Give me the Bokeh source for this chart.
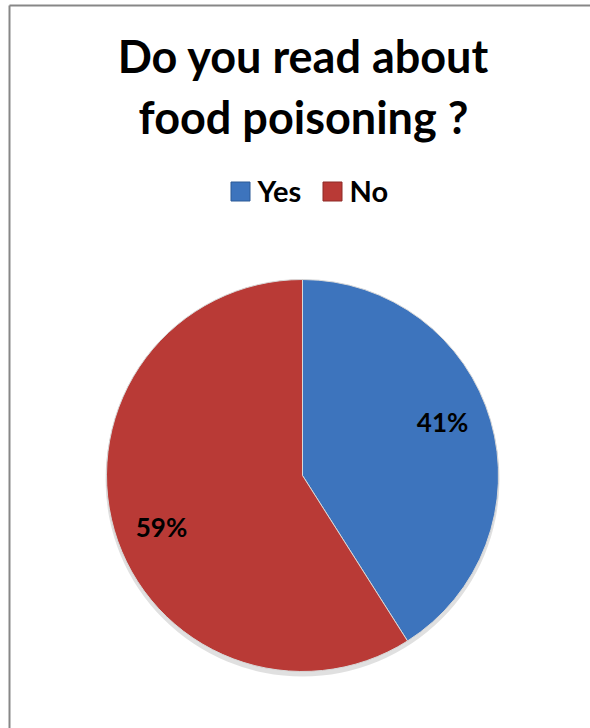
import math
from bokeh.plotting import figure
from bokeh.models import Range1d, ColumnDataSource
from bokeh.core.properties import value
from bokeh.embed import file_html
from bokeh.resources import INLINE

# ---- data ----
categories = ["Yes", "No"]
values = [41, 59]
colors = ["#3d74bd", "#b93a36"]
title_lines = ["Do you read about", "food poisoning ?"]

W, H = 590, 728
p = figure(width=W, height=H, output_backend="svg", toolbar_location=None,
           x_range=Range1d(0, W), y_range=Range1d(0, H), min_border=0)
p.axis.visible = False
p.grid.visible = False
p.outline_line_color = None
p.background_fill_color = "white"
p.border_fill_color = "white"

# chart frame (left and top edges; the rest lies outside the window)
p.segment(x0=[9, 9], y0=[0, H - 5], x1=[9, W], y1=[H - 5, H - 5],
          line_color="#878787", line_width=2)

# pie geometry (screen y -> data y)
cx, cy, R = 302, H - 475, 196
total = sum(values)
starts, ends, mids = [], [], []
a = math.pi / 2
for v in values:
    sweep = 2 * math.pi * v / total
    starts.append(a - sweep)
    ends.append(a)
    mids.append(a - sweep / 2)
    a -= sweep

src = ColumnDataSource(dict(cat=categories, val=values, color=colors,
                            start=starts, end=ends))

# soft shadow
p.circle(x=[cx], y=[cy - 4], radius=R + 1, fill_color="#000000", fill_alpha=0.12,
         line_color=None)
p.wedge(x=cx, y=cy, radius=R, start_angle="start", end_angle="end",
        fill_color="color", line_color="#d8d8d8", line_width=1, source=src)

# percentage labels
lr = 0.76 * R
dx_adj = [-3, 2]
dy_adj = [12, -10]
lx = [cx + lr * math.cos(m) + dx_adj[i] for i, m in enumerate(mids)]
ly = [cy + lr * math.sin(m) + dy_adj[i] for i, m in enumerate(mids)]
p.text(x=lx, y=ly, text=[f"{v}%" for v in values], text_font=value("Lato"),
       text_font_style="bold", text_font_size="26px", text_align="center",
       text_baseline="middle", text_color="black")

# title
p.text(x=[W / 2 + 8, W / 2 + 8], y=[H - 55, H - 116], text=title_lines,
       text_font=value("Lato"), text_font_style="bold", text_font_size="45px",
       text_align="center", text_baseline="alphabetic", text_color="black")

# legend
leg_x = [240, 332]
leg_y = H - 191
p.scatter(x=leg_x, y=[leg_y] * 2, marker="square", size=19, fill_color=colors,
          line_color=["#2d5a96", "#8e2a27"], line_width=1)
p.text(x=[x + 17 for x in leg_x], y=[H - 190] * 2, text=categories,
       text_font=value("Lato"), text_font_style="bold", text_font_size="29px",
       text_align="left", text_baseline="alphabetic", text_color="black")

open("out.html", "w").write(file_html(p, INLINE))
